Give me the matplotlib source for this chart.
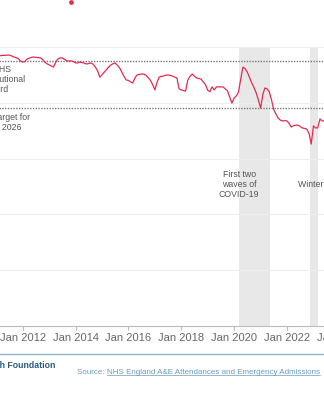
import matplotlib
matplotlib.use("Agg")
import matplotlib.pyplot as plt
import matplotlib.dates as mdates
from matplotlib.lines import Line2D
import pandas as pd

plt.rcParams['font.family'] = ['Liberation Sans', 'DejaVu Sans']

# Monthly share of A&E attendances seen within 4 hours (%), from Dec 2010
start_month = "2010-12-01"
pct_within_4h = [
    96.6,
    96.7, 96.8, 96.9, 97.0, 97.0, 97.1, 97.1, 96.8, 96.4, 96.2, 95.8, 95.0,  # 2011
    94.6, 94.8, 95.7, 96.0, 96.3, 96.4, 96.3, 96.2, 96.1, 95.6, 94.6, 94.0,  # 2012
    93.6, 93.2, 92.8, 94.5, 95.7, 96.1, 96.1, 95.6, 95.0, 95.0, 95.0, 94.8,  # 2013
    94.3, 94.3, 94.6, 94.4, 94.2, 93.9, 94.1, 94.3, 93.8, 92.8, 91.5, 89.2,  # 2014
    90.0, 91.0, 91.8, 92.8, 93.5, 94.0, 94.3, 93.5, 92.5, 91.0, 89.5, 88.2,  # 2015
    88.0, 87.5, 87.1, 89.0, 90.0, 90.2, 90.3, 90.3, 89.8, 89.0, 88.0, 86.5,  # 2016
    84.6, 87.5, 89.2, 89.5, 89.6, 89.9, 90.0, 89.8, 89.6, 89.2, 88.9, 85.0,  # 2017
    84.6, 84.4, 84.2, 88.2, 89.5, 90.3, 89.5, 88.9, 88.7, 88.5, 87.5, 86.5,  # 2018
    84.5, 84.0, 85.7, 84.6, 85.7, 85.7, 85.7, 85.7, 85.0, 84.3, 82.0, 79.9,  # 2019
    81.7, 82.5, 83.9, 88.5, 92.8, 92.2, 91.0, 89.0, 87.1, 85.5, 83.5, 81.0,  # 2020
    78.1, 83.0, 85.3, 85.0, 83.9, 81.0, 77.5, 76.0, 74.5, 73.8, 73.5, 73.6,  # 2021
    73.5, 72.5, 71.3, 71.8, 72.0, 72.0, 71.5, 71.0, 70.8, 70.6, 69.0, 65.2,  # 2022
    71.7, 71.0, 71.0, 74.2, 73.5, 73.5, 73.0,                                # 2023
]

nhs_standard = 95
target_2026 = 78
covid_period = ("2020-03-10", "2021-05-10")
winter_period = ("2022-11-15", "2023-03-01")
tick_years = [2010, 2012, 2014, 2016, 2018, 2020, 2022, 2024]

RED = "#e32b51"
W, H = 324, 400

dates = pd.date_range(start_month, periods=len(pct_within_4h), freq="MS")

fig = plt.figure(figsize=(W / 100, H / 100), dpi=100)

# axes placed so Jan 2012 sits at x=22.7px and 0..100% spans y=326..47px
x0 = mdates.date2num(pd.Timestamp("2010-01-01"))
x1 = mdates.date2num(pd.Timestamp("2024-12-01"))
ref = mdates.date2num(pd.Timestamp("2012-01-01"))
px_per_day = 26.43 / 365.25
left_px = 22.7 + (x0 - ref) * px_per_day
right_px = 22.7 + (x1 - ref) * px_per_day
ax = fig.add_axes([left_px / W, (H - 326) / H, (right_px - left_px) / W, (326 - 47) / H])
ax.set_xlim(x0, x1)
ax.set_ylim(0, 100)

ax.axvspan(pd.Timestamp(covid_period[0]), pd.Timestamp(covid_period[1]), color="#e8e8e8", lw=0, zorder=0)
ax.axvspan(pd.Timestamp(winter_period[0]), pd.Timestamp(winter_period[1]), color="#e8e8e8", lw=0, zorder=0)

ax.set_yticks([20, 40, 60, 80, 100])
ax.yaxis.grid(True, color="#eeeeee", lw=0.8)
ax.set_axisbelow(True)
ax.tick_params(axis="y", length=0, labelleft=False)

ax.axhline(nhs_standard, color="#777777", lw=1.0, ls=(0, (1, 1)), zorder=2)
ax.axhline(target_2026, color="#777777", lw=1.0, ls=(0, (1, 1)), zorder=2)

ax.plot(dates, pct_within_4h, color=RED, lw=0.9, zorder=3)

for s in ["top", "left", "right"]:
    ax.spines[s].set_visible(False)
ax.spines["bottom"].set_color("#bbbbbb")
ax.spines["bottom"].set_linewidth(0.8)

ax.set_xticks([pd.Timestamp(f"{y}-01-01") for y in tick_years])
ax.set_xticklabels([f"Jan {y}" for y in tick_years])
ax.tick_params(axis="x", length=3, width=0.8, color="#bbbbbb", labelcolor="#666666",
               labelsize=8, pad=2)

# annotations (left labels start ~25px left of the picture edge)
lab_x = pd.Timestamp("2012-01-01") - pd.Timedelta(days=(22.7 + 25.0) / px_per_day)
ax.text(lab_x, 93.5, "The NHS\nconstitutional\nstandard", ha="left", va="top",
        fontsize=6.3, color="#555555", linespacing=1.12)
ax.text(lab_x, 76.3, "New target for\nMarch 2026", ha="left", va="top",
        fontsize=6.3, color="#555555", linespacing=1.12)
ax.text(pd.Timestamp(covid_period[0]), 50.8, "First two\nwaves of\nCOVID-19", ha="center",
        va="center", fontsize=6.3, color="#555555", linespacing=1.12)
ax.text(pd.Timestamp("2022-06-01"), 50.6, "Winter 2022/23", ha="left", va="center",
        fontsize=6.3, color="#555555")

# footer
fig.add_artist(Line2D([0, 1], [1 - 354 / H] * 2, transform=fig.transFigure,
                      color="#8fb3c9", lw=1.0))
fig.text(55 / W, 1 - 366 / H, "The Health Foundation", ha="right", va="center",
         fontsize=6.3, fontweight="bold", color="#2a5a80")
src = fig.text(77 / W, 1 - 372 / H, "Source: ", ha="left", va="center",
               fontsize=5.8, color="#6a9bbd")
fig.canvas.draw()
r = fig.canvas.get_renderer()
bb = src.get_window_extent(r)
link = fig.text(bb.x1 / W, 1 - 372 / H, "NHS England A&E Attendances and Emergency Admissions",
                ha="left", va="center", fontsize=5.8, color="#6a9bbd")
fig.canvas.draw()
lb = link.get_window_extent(r)
fig.add_artist(Line2D([lb.x0 / W, lb.x1 / W], [(lb.y0 + 0.5) / H] * 2,
                      transform=fig.transFigure, color="#6a9bbd", lw=0.5))

# marker peeking in at the top edge
fig.add_artist(Line2D([70.5 / W], [1 - 1.5 / H], transform=fig.transFigure,
                      marker="o", ms=2.4, color=RED, lw=0))

fig.savefig("out.png", dpi=100)
